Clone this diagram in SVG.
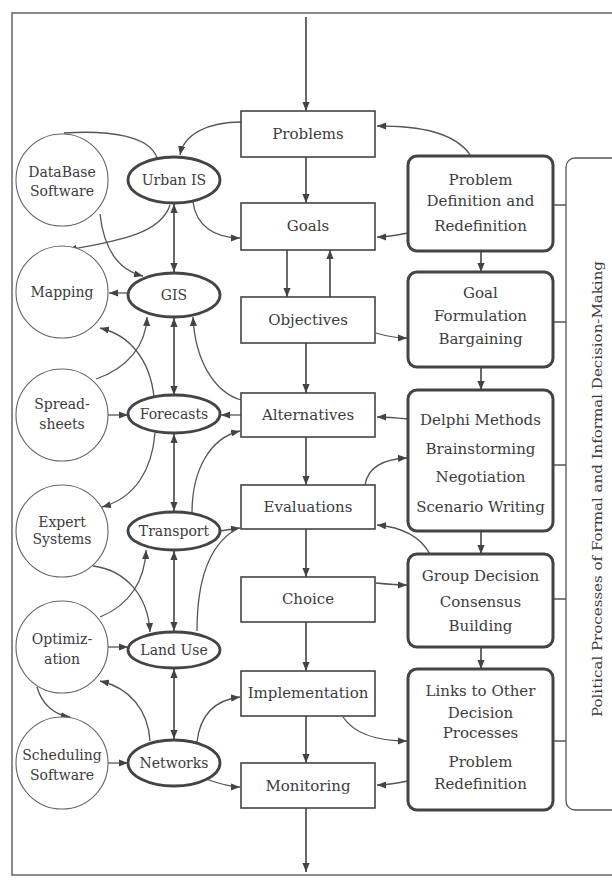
<svg xmlns="http://www.w3.org/2000/svg" width="612" height="880" viewBox="0 0 612 880">
<defs>
<style>
.t{font-family:"DejaVu Serif","Liberation Serif",serif;font-size:15px;fill:#3c3c3c;text-anchor:middle}
.s{font-size:14px}
.box{fill:#fff;stroke:#444;stroke-width:1.6}
.rb{fill:#fff;stroke:#444;stroke-width:3}
.el{fill:#fff;stroke:#444;stroke-width:2.8}
.ci{fill:#fff;stroke:#666;stroke-width:1.1}
.c{fill:none;stroke:#555;stroke-width:1.3}
.v{fill:none;stroke:#444;stroke-width:1.6}
.a{marker-end:url(#ah)}
.d{marker-start:url(#ah);marker-end:url(#ah)}
</style>
<marker id="ah" viewBox="0 0 10 8" refX="10" refY="4" markerWidth="9" markerHeight="7.2" markerUnits="userSpaceOnUse" orient="auto-start-reverse">
<path d="M0,0 L10,4 L0,8 z" fill="#444"/>
</marker>
</defs>
<rect x="0" y="0" width="612" height="880" fill="#fff"/>
<rect id="frame" x="12" y="13" width="640" height="862" fill="none" stroke="#666" stroke-width="1.5"/>

<g id="political">
<rect x="566" y="158" width="80" height="652" rx="9" fill="#fff" stroke="#555" stroke-width="1.3"/>
<text class="t" x="0" y="0" font-size="13" transform="translate(602,489) rotate(-90)" style="font-size:13px" textLength="456" lengthAdjust="spacingAndGlyphs">Political Processes of Formal and Informal Decision-Making</text>
</g>

<g id="connectors">
<!-- central vertical -->
<path class="v a" d="M306,17 V111"/>
<path class="v a" d="M306,157 V203"/>
<path class="v a" d="M287,250 V297"/>
<path class="v a" d="M330,297 V250"/>
<path class="v a" d="M306,343 V393"/>
<path class="v a" d="M306,437 V485"/>
<path class="v a" d="M306,529 V577"/>
<path class="v a" d="M306,622 V671"/>
<path class="v a" d="M306,716 V763"/>
<path class="v a" d="M306,808 V872"/>
<!-- right column vertical -->
<path class="v a" d="M481,251 V272"/>
<path class="v a" d="M481,367 V390"/>
<path class="v a" d="M481,531 V554"/>
<path class="v a" d="M481,647 V669"/>
<!-- right column to political -->
<path class="c" d="M553,205 H566 M553,322 H566 M553,465 H566 M553,599 H566 M553,741 H566"/>
<!-- right column links -->
<path class="c a" d="M471,156 C455,132 420,126 377,126"/>
<path class="c a" d="M408,233 C398,235 388,237 377,237"/>
<path class="c a" d="M376,333 C386,336 396,338 407,338"/>
<path class="c a" d="M408,419 C398,418 388,417 377,417"/>
<path class="c a" d="M365,485 C368,466 385,459 407,458"/>
<path class="c a" d="M430,554 C420,536 400,527 377,525"/>
<path class="c a" d="M376,583 C386,584 396,585 407,585"/>
<path class="c a" d="M343,717 C355,735 380,741 407,741"/>
<path class="c a" d="M408,781 C398,783 388,785 377,785"/>
<!-- left side -->
<path class="c a" d="M241,122 C208,122 184,134 180,155"/>
<path class="c a" d="M193,202 C196,226 215,238 240,238"/>
<path class="v d" d="M174,204 V272"/>
<path class="c" d="M64,133 C110,130 150,136 157,158"/>
<path class="c a" d="M100,214 C104,250 118,270 143,276"/>
<path class="c a" d="M170,205 C160,236 110,242 68,250"/>
<path class="c a" d="M128,293 H109"/>
<path class="c a" d="M96,379 C128,368 146,345 147,317"/>
<path class="c a" d="M154,397 C150,360 130,335 100,328"/>
<path class="v d" d="M174,318 V395"/>
<path class="c a" d="M241,400 C214,392 195,360 193,317"/>
<path class="c a" d="M108,415 H128"/>
<path class="c a" d="M241,415 H221"/>
<path class="c a" d="M192,513 C192,470 210,438 240,431"/>
<path class="c a" d="M155,433 C152,470 135,498 102,507"/>
<path class="v d" d="M174,434 V511"/>
<path class="c a" d="M220,531 C226,530 233,529 240,528"/>
<path class="c" d="M197,631 C197,580 210,545 235,530"/>
<path class="c a" d="M93,566 C125,570 148,595 150,632"/>
<path class="c a" d="M100,617 C130,605 145,580 146,550"/>
<path class="v d" d="M174,551 V631"/>
<path class="c a" d="M108,647 H128"/>
<path class="c a" d="M150,741 C148,710 130,688 100,681"/>
<path class="c a" d="M37,687 C42,705 55,715 70,717"/>
<path class="v d" d="M174,669 V739"/>
<path class="c a" d="M197,742 C200,715 215,700 240,697"/>
<path class="c a" d="M206,779 C220,784 230,787 240,787"/>
<path class="c a" d="M108,763 H128"/>
</g>

<g id="problems"><rect class="box" x="241" y="111" width="134" height="46"/><text class="t" x="308" y="139">Problems</text></g>
<g id="goals"><rect class="box" x="241" y="203" width="134" height="47"/><text class="t" x="308" y="231">Goals</text></g>
<g id="objectives"><rect class="box" x="241" y="297" width="134" height="46"/><text class="t" x="308" y="325">Objectives</text></g>
<g id="alternatives"><rect class="box" x="241" y="393" width="134" height="44"/><text class="t" x="308" y="420">Alternatives</text></g>
<g id="evaluations"><rect class="box" x="241" y="485" width="134" height="44"/><text class="t" x="308" y="512">Evaluations</text></g>
<g id="choice"><rect class="box" x="241" y="577" width="134" height="45"/><text class="t" x="308" y="604">Choice</text></g>
<g id="implementation"><rect class="box" x="241" y="671" width="134" height="45"/><text class="t" x="308" y="698">Implementation</text></g>
<g id="monitoring"><rect class="box" x="241" y="763" width="134" height="45"/><text class="t" x="308" y="791">Monitoring</text></g>

<g id="problem-definition"><rect class="rb" x="408" y="156" width="145" height="95" rx="9"/>
<text class="t" x="480.5" y="185">Problem</text><text class="t" x="480.5" y="206">Definition and</text><text class="t" x="480.5" y="231">Redefinition</text></g>
<g id="goal-formulation"><rect class="rb" x="408" y="272" width="145" height="95" rx="9"/>
<text class="t" x="480.5" y="298">Goal</text><text class="t" x="480.5" y="321">Formulation</text><text class="t" x="480.5" y="344">Bargaining</text></g>
<g id="delphi"><rect class="rb" x="408" y="390" width="145" height="141" rx="9"/>
<text class="t" x="480.5" y="425">Delphi Methods</text><text class="t" x="480.5" y="454">Brainstorming</text><text class="t" x="480.5" y="482">Negotiation</text><text class="t" x="480.5" y="512">Scenario Writing</text></g>
<g id="group-decision"><rect class="rb" x="408" y="554" width="145" height="93" rx="9"/>
<text class="t" x="480.5" y="581">Group Decision</text><text class="t" x="480.5" y="607">Consensus</text><text class="t" x="480.5" y="631">Building</text></g>
<g id="links"><rect class="rb" x="408" y="669" width="145" height="141" rx="9"/>
<text class="t" x="480.5" y="696">Links to Other</text><text class="t" x="480.5" y="718">Decision</text><text class="t" x="480.5" y="738">Processes</text><text class="t" x="480.5" y="767">Problem</text><text class="t" x="480.5" y="789">Redefinition</text></g>

<g id="urban-is"><ellipse class="el" cx="174" cy="180" rx="46" ry="23"/><text class="t s" x="174" y="185">Urban IS</text></g>
<g id="gis"><ellipse class="el" cx="174" cy="295" rx="46" ry="22"/><text class="t s" x="174" y="300">GIS</text></g>
<g id="forecasts"><ellipse class="el" cx="174" cy="414" rx="46" ry="19"/><text class="t s" x="174" y="419">Forecasts</text></g>
<g id="transport"><ellipse class="el" cx="174" cy="531" rx="46" ry="19"/><text class="t s" x="174" y="536">Transport</text></g>
<g id="land-use"><ellipse class="el" cx="174" cy="650" rx="46" ry="18"/><text class="t s" x="174" y="655">Land Use</text></g>
<g id="networks"><ellipse class="el" cx="174" cy="763" rx="46" ry="23"/><text class="t s" x="174" y="768">Networks</text></g>

<g id="database"><circle class="ci" cx="62" cy="180" r="46"/><text class="t s" x="62" y="177">DataBase</text><text class="t s" x="62" y="196">Software</text></g>
<g id="mapping"><circle class="ci" cx="62" cy="292" r="46"/><text class="t s" x="62" y="297">Mapping</text></g>
<g id="spreadsheets"><circle class="ci" cx="62" cy="415" r="46"/><text class="t s" x="62" y="409">Spread-</text><text class="t s" x="62" y="429">sheets</text></g>
<g id="expert"><circle class="ci" cx="62" cy="531" r="46"/><text class="t s" x="62" y="527">Expert</text><text class="t s" x="62" y="544">Systems</text></g>
<g id="optimization"><circle class="ci" cx="62" cy="647" r="46"/><text class="t s" x="62" y="644">Optimiz-</text><text class="t s" x="62" y="664">ation</text></g>
<g id="scheduling"><circle class="ci" cx="62" cy="763" r="46"/><text class="t s" x="62" y="760">Scheduling</text><text class="t s" x="62" y="780">Software</text></g>
</svg>
